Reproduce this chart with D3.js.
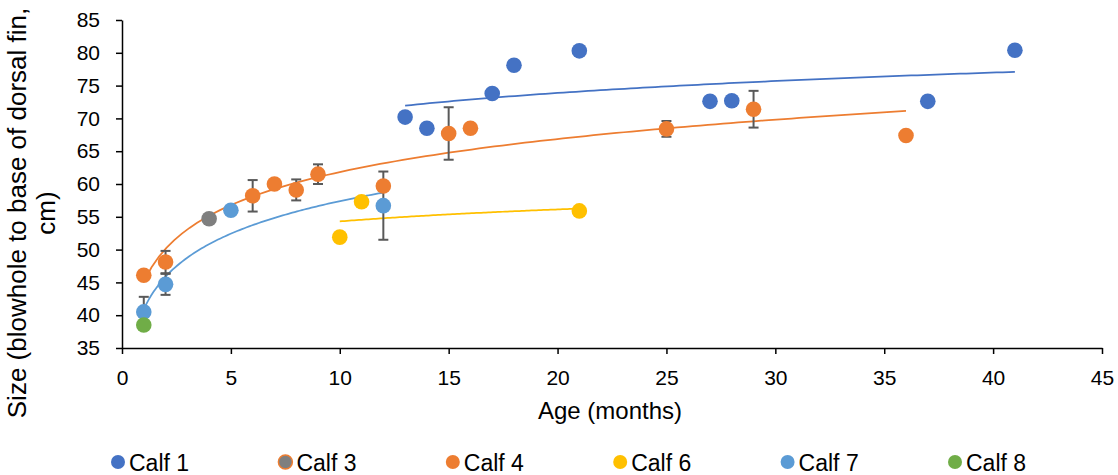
<!DOCTYPE html>
<html>
<head>
<meta charset="utf-8">
<script src="https://cdn.jsdelivr.net/npm/d3@7"></script>
<style>
  html, body { margin: 0; padding: 0; background: #fff; }
  svg { display: block; font-family: "Liberation Sans", Arial, sans-serif; }
  .axis path, .axis line { stroke: #000; stroke-width: 1.5; }
  .axis text { font-size: 21px; fill: #000; }
</style>
</head>
<body>
<svg id="chart" width="1118" height="475"></svg>
<script>
/* ── Data ────────────────────────────────────────────────── */
const calf1Age = [13, 14, 17, 18, 21, 27, 28, 37, 41];
const calf1Size = [70.2, 68.5, 73.8, 78.1, 80.3, 72.6, 72.7, 72.6, 80.4];

const calf3Age = [4];
const calf3Size = [54.7];

const calf4Age = [1, 2, 6, 7, 8, 9, 12, 15, 16, 25, 29, 36];
const calf4Size = [46.1, 48.1, 58.2, 60.0, 59.1, 61.5, 59.7, 67.7, 68.5, 68.4, 71.4, 67.4];
const calf4Err = [0, 1.7, 2.4, 0, 1.6, 1.5, 0, 4.0, 0, 1.2, 2.8, 0];

const calf6Age = [10, 11, 21];
const calf6Size = [51.9, 57.3, 55.9];

const calf7Age = [1, 2, 5, 12];
const calf7Size = [40.5, 44.7, 56.0, 56.7];
const calf7Err = [2.3, 1.6, 0, 5.2];

const calf8Age = [1];
const calf8Size = [38.5];

const xTicks = [0, 5, 10, 15, 20, 25, 30, 35, 40, 45];
const yTicks = [35, 40, 45, 50, 55, 60, 65, 70, 75, 80, 85];

const series = [
  { name: 'Calf 1', age: calf1Age, size: calf1Size, color: '#4472C4', trend: true },
  { name: 'Calf 3', age: calf3Age, size: calf3Size, color: '#7F7F7F', stroke: '#ED7D31' },
  { name: 'Calf 4', age: calf4Age, size: calf4Size, err: calf4Err, color: '#ED7D31', trend: true },
  { name: 'Calf 6', age: calf6Age, size: calf6Size, color: '#FFC000', trend: true },
  { name: 'Calf 7', age: calf7Age, size: calf7Size, err: calf7Err, color: '#5B9BD5', trend: true },
  { name: 'Calf 8', age: calf8Age, size: calf8Size, color: '#70AD47' }
];

/* ── Layout ──────────────────────────────────────────────── */
const plot = { left: 122, right: 1102, top: 20, bottom: 348 };
const svg = d3.select('#chart');

const x = d3.scaleLinear().domain([0, 45]).range([plot.left, plot.right]);
const y = d3.scaleLinear().domain([35, 85]).range([plot.bottom, plot.top]);

/* ── Axes ────────────────────────────────────────────────── */
svg.append('g')
  .attr('class', 'axis')
  .attr('transform', `translate(0,${plot.bottom})`)
  .call(d3.axisBottom(x).tickValues(xTicks).tickSize(6).tickSizeOuter(0).tickPadding(16));

svg.append('g')
  .attr('class', 'axis')
  .attr('transform', `translate(${plot.left},0)`)
  .call(d3.axisLeft(y).tickValues(yTicks).tickSize(6).tickSizeOuter(0).tickPadding(16));

/* ── Axis titles ─────────────────────────────────────────── */
svg.append('text')
  .attr('x', 610).attr('y', 419)
  .attr('text-anchor', 'middle')
  .style('font-size', '24px')
  .text('Age (months)');

const yTitle = svg.append('text')
  .attr('transform', 'translate(26,213) rotate(-90)')
  .attr('text-anchor', 'middle')
  .style('font-size', '26px');
yTitle.append('tspan').attr('x', 0).attr('y', 0).text('Size (blowhole to base of dorsal fin,');
yTitle.append('tspan').attr('x', 0).attr('y', 29).text('cm)');

/* ── Logarithmic trendlines (least squares on ln x) ──────── */
function logFit(xs, ys) {
  const lx = xs.map(Math.log);
  const mx = d3.mean(lx), my = d3.mean(ys);
  const a = d3.sum(lx, (v, i) => (v - mx) * (ys[i] - my)) / d3.sum(lx, v => (v - mx) ** 2);
  return t => a * Math.log(t) + (my - a * mx);
}

const line = d3.line().x(d => x(d[0])).y(d => y(d[1]));
series.filter(s => s.trend).forEach(s => {
  const f = logFit(s.age, s.size);
  const [lo, hi] = d3.extent(s.age);
  const pts = d3.range(0, 101).map(i => {
    const t = lo + (hi - lo) * i / 100;
    return [t, f(t)];
  });
  svg.append('path')
    .attr('d', line(pts))
    .attr('fill', 'none')
    .attr('stroke', s.color)
    .attr('stroke-width', 1.75);
});

/* ── Error bars (drawn under markers) ────────────────────── */
const errG = svg.append('g').attr('stroke', '#595959').attr('stroke-width', 2);
series.filter(s => s.err).forEach(s => {
  s.age.forEach((a, i) => {
    const e = s.err[i];
    if (!e) return;
    const cx = x(a), y0 = y(s.size[i] - e), y1 = y(s.size[i] + e);
    errG.append('line').attr('x1', cx).attr('x2', cx).attr('y1', y0).attr('y2', y1);
    errG.append('line').attr('x1', cx - 5).attr('x2', cx + 5).attr('y1', y0).attr('y2', y0);
    errG.append('line').attr('x1', cx - 5).attr('x2', cx + 5).attr('y1', y1).attr('y2', y1);
  });
});

/* ── Markers ─────────────────────────────────────────────── */
series.forEach(s => {
  svg.append('g')
    .selectAll('circle')
    .data(s.age.map((a, i) => [a, s.size[i]]))
    .join('circle')
    .attr('cx', d => x(d[0]))
    .attr('cy', d => y(d[1]))
    .attr('r', 7.8)
    .attr('fill', s.color);
});

/* ── Legend ──────────────────────────────────────────────── */
const legend = svg.append('g')
  .selectAll('g')
  .data(series)
  .join('g')
  .attr('transform', (d, i) => `translate(${118 + i * 167.4},462)`);

legend.append('circle')
  .attr('r', 7)
  .attr('fill', d => d.color)
  .attr('stroke', d => d.stroke || 'none')
  .attr('stroke-width', 1.5);

legend.append('text')
  .attr('x', 11)
  .attr('y', 9)
  .style('font-size', '23px')
  .text(d => d.name);
</script>
</body>
</html>
